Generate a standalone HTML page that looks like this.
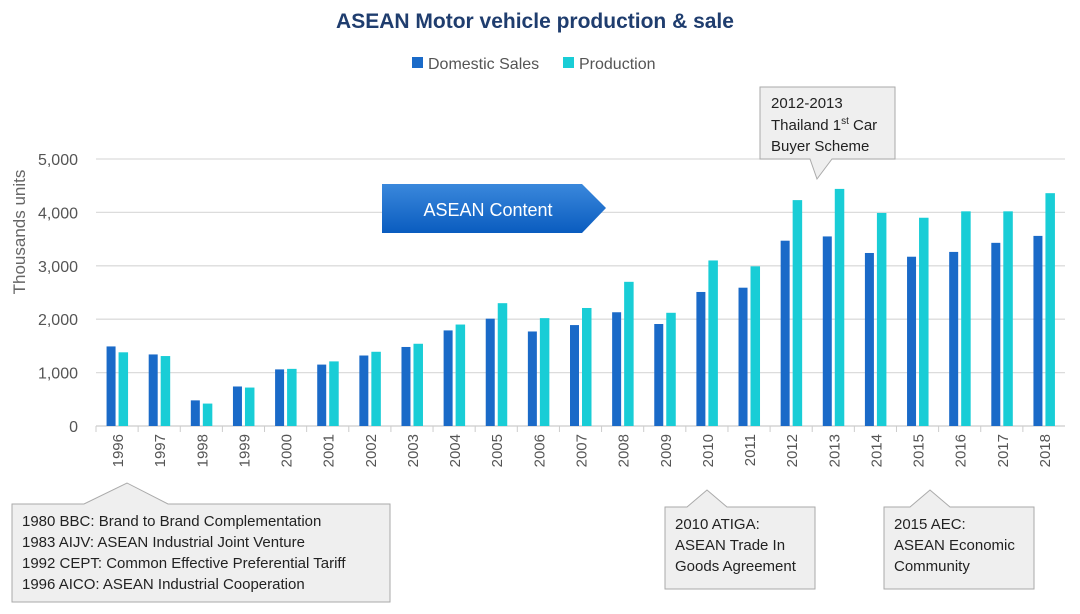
<!DOCTYPE html>
<html><head><meta charset="utf-8"><style>
body{margin:0;background:#fff;font-family:"Liberation Sans","Noto Sans CJK SC",sans-serif;}
svg text{font-family:"Liberation Sans","Noto Sans CJK SC",sans-serif;}
</style></head><body>
<svg id="chart" width="1080" height="609" viewBox="0 0 1080 609">
<text x="535" y="28" text-anchor="middle" font-size="21" font-weight="bold" fill="#1f3d6e">ASEAN Motor vehicle production &amp; sale</text>
<g>
<rect x="412" y="57" width="11" height="11" fill="#1a6ac8"/>
<text x="428" y="69" font-size="16" fill="#555">Domestic Sales</text>
<rect x="563" y="57" width="11" height="11" fill="#19cdd6"/>
<text x="579" y="69" font-size="16" fill="#555">Production</text>
</g>
<text transform="translate(25,232) rotate(-90)" text-anchor="middle" font-size="17" fill="#666">Thousands units</text>
<g id="grid"></g><g id="bars"></g><g id="xlabels"></g>
<g>
<defs><linearGradient id="ag" x1="0" y1="0" x2="0" y2="1"><stop offset="0" stop-color="#3a88dc"/><stop offset="1" stop-color="#0a5cbf"/></linearGradient></defs>
<polygon points="382,184 582,184 606,208 582,233 382,233" fill="url(#ag)"/>
<text x="488" y="216" text-anchor="middle" font-size="18" fill="#fff">ASEAN Content</text>
</g>
<g>
<path d="M760,87 H895 V159 H832 L817,179 L810,159 H760 Z" fill="#efefef" stroke="#aaa"/>
<text x="771" y="108" font-size="15" fill="#222">2012-2013</text>
<text x="771" y="130" font-size="15" fill="#222">Thailand 1<tspan font-size="10" dy="-6">st</tspan><tspan dy="6"> Car</tspan></text>
<text x="771" y="151" font-size="15" fill="#222">Buyer Scheme</text>
</g>
<g>
<path d="M12,504 H84 L127,483 L168,504 H390 V602 H12 Z" fill="#efefef" stroke="#aaa"/>
<text x="22" y="526" font-size="15" fill="#222">1980  BBC: Brand to Brand Complementation</text>
<text x="22" y="547" font-size="15" fill="#222">1983  AIJV: ASEAN Industrial Joint Venture</text>
<text x="22" y="568" font-size="15" fill="#222">1992  CEPT: Common Effective Preferential Tariff</text>
<text x="22" y="589" font-size="15" fill="#222">1996  AICO: ASEAN Industrial  Cooperation</text>
</g>
<g>
<path d="M665,507 H687 L707,490 L727,507 H815 V589 H665 Z" fill="#efefef" stroke="#aaa"/>
<text x="675" y="529" font-size="15" fill="#222">2010 ATIGA:</text>
<text x="675" y="550" font-size="15" fill="#222">ASEAN Trade In</text>
<text x="675" y="571" font-size="15" fill="#222">Goods Agreement</text>
</g>
<g>
<path d="M884,507 H910 L930,490 L950,507 H1034 V589 H884 Z" fill="#efefef" stroke="#aaa"/>
<text x="894" y="529" font-size="15" fill="#222">2015 AEC:</text>
<text x="894" y="550" font-size="15" fill="#222">ASEAN Economic</text>
<text x="894" y="571" font-size="15" fill="#222">Community</text>
</g>
</svg>
<script>
const years=["1996","1997","1998","1999","2000","2001","2002","2003","2004","2005","2006","2007","2008","2009","2010","2011","2012","2013","2014","2015","2016","2017","2018"];
const domestic=[1490,1340,480,740,1060,1150,1320,1480,1790,2010,1770,1890,2130,1910,2510,2590,3470,3550,3240,3170,3260,3430,3560];
const production=[1380,1310,420,720,1070,1210,1390,1540,1900,2300,2020,2210,2700,2120,3100,2990,4230,4440,3990,3900,4020,4020,4360];
const yTicks=[0,1000,2000,3000,4000,5000];
const yTickLabels=["0","1,000","2,000","3,000","4,000","5,000"];
const NS="http://www.w3.org/2000/svg";
const x0=96,x1=1065,y0=426,y5=159;
const y=v=>y0-(v/5000)*(y0-y5);
const bw=(x1-x0)/years.length;
const xc=i=>x0+bw*(i+0.5);
function mk(t,a,p){const e=document.createElementNS(NS,t);for(const k in a)e.setAttribute(k,a[k]);p.appendChild(e);return e;}
const grid=document.getElementById('grid'),bars=document.getElementById('bars'),xl=document.getElementById('xlabels');
yTicks.forEach((v,i)=>{
 const l=mk('line',{x1:x0,x2:x1,y1:y(v),y2:y(v),stroke:v===0?'#ccc':'#dcdcdc','stroke-width':1.3},grid);
 
 
 const t=mk('text',{x:78,y:y(v)+6,'text-anchor':'end','font-size':16,fill:'#555'},grid);
 t.textContent=yTickLabels[i];
 
 
});
years.forEach((yr,i)=>{
 const c=xc(i);
 const d=mk('rect',{x:c-10.5,y:y(domestic[i]),width:9,height:y0-y(domestic[i]),fill:'#1a6ac8'},bars);
 
 
 const p=mk('rect',{x:c+1.5,y:y(production[i]),width:9.5,height:y0-y(production[i]),fill:'#19cdd6'},bars);
 
 
 const tk=mk('line',{x1:x0+bw*i,x2:x0+bw*i,y1:y0,y2:y0+6,stroke:'#ccc'},xl);
 
 
 const t=mk('text',{transform:`translate(${c+6},${y0+8}) rotate(-90)`,'text-anchor':'end','font-size':15,fill:'#555'},xl);
 t.textContent=yr;
 
 
});
</script>
</body></html>
